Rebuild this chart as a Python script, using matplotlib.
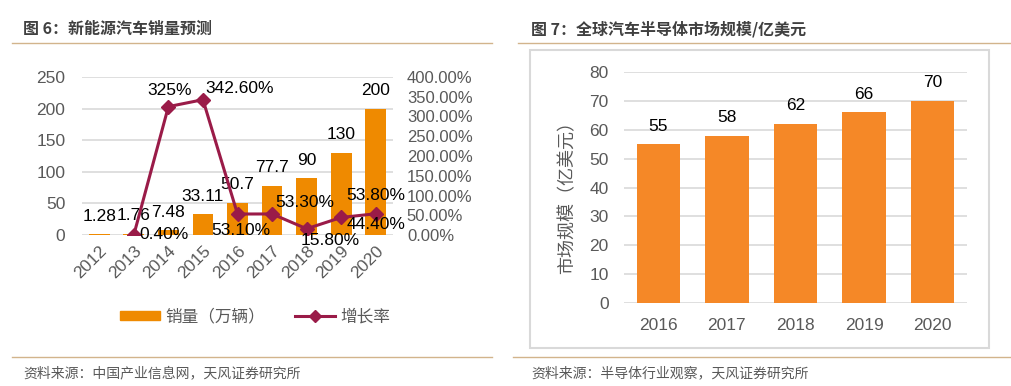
import matplotlib
matplotlib.use('Agg')
import matplotlib.pyplot as plt
from matplotlib.patches import Rectangle
from matplotlib.lines import Line2D
from matplotlib.ticker import FuncFormatter

plt.rcParams['font.family'] = ['Liberation Sans', 'Noto Sans CJK SC', 'DejaVu Sans']
CJK = ['Noto Sans CJK SC', 'DejaVu Sans']

# figure 6: NEV sales forecast
years6 = ['2012', '2013', '2014', '2015', '2016', '2017', '2018', '2019', '2020']
sales = [1.28, 1.76, 7.48, 33.11, 50.7, 77.7, 90, 130, 200]
sales_labels = ['1.28', '1.76', '7.48', '33.11', '50.7', '77.7', '90', '130', '200']
growth_years = years6[1:]
growth = [0.40, 325, 342.60, 53.10, 53.30, 15.80, 44.40, 53.80]
growth_labels = ['0.40%', '325%', '342.60%', '53.10%', '53.30%', '15.80%', '44.40%', '53.80%']

# figure 7: global auto semiconductor market
years7 = ['2016', '2017', '2018', '2019', '2020']
market = [55, 58, 62, 66, 70]

ORANGE = '#EF8A00'
ORANGE2 = '#F58827'
LINE = '#9A1B48'
GRID = '#D9D9D9'
TICK = '#595959'
RULE = '#D2B48C'

W, H = 1012, 386
fig = plt.figure(figsize=(W / 100, H / 100), dpi=100)


def px(x0, y0, x1, y1):
    # pixel box (top-left origin) -> figure fraction rect
    return [x0 / W, 1 - y1 / H, (x1 - x0) / W, (y1 - y0) / H]


# header / footer rules and texts
for x0, x1, y in [(12, 492, 43), (518, 1012, 43), (12, 492, 357), (513, 1012, 357)]:
    fig.add_artist(Line2D([x0 / W, x1 / W], [1 - y / H] * 2, color=RULE, lw=1))

fig.text(23 / W, 1 - 29 / H, '图 6：新能源汽车销量预测', family=CJK, fontsize=11.5,
         fontweight='bold', color='#404040', va='center')
fig.text(531 / W, 1 - 29 / H, '图 7：全球汽车半导体市场规模/亿美元', family=CJK, fontsize=11.5,
         fontweight='bold', color='#404040', va='center')
fig.text(23 / W, 1 - 373 / H, '资料来源：中国产业信息网，天风证券研究所', family=CJK,
         fontsize=10, color=TICK, va='center')
fig.text(531 / W, 1 - 373 / H, '资料来源：半导体行业观察，天风证券研究所', family=CJK,
         fontsize=10, color=TICK, va='center')

# ---- left chart ----
ax = fig.add_axes(px(82, 77, 393, 235))
x6 = list(range(len(years6)))
ax.bar(x6, sales, width=0.6, color=ORANGE, zorder=2, label='销量（万辆）')
ax.set_xlim(-0.5, len(years6) - 0.5)
ax.set_ylim(0, 250)
ax.set_yticks(range(0, 251, 50))
ax.grid(axis='y', color=GRID, lw=1.2, zorder=0)
ax.set_axisbelow(True)
for s in ax.spines.values():
    s.set_visible(False)
ax.tick_params(length=0, labelsize=12.5, colors=TICK)
ax.tick_params(axis='y', pad=12)
ax.set_xticks(x6)
ax.set_xticklabels(years6, rotation=45, ha='right', rotation_mode='anchor')
ax.tick_params(axis='x', pad=6)
for xi, v, t in zip(x6, sales, sales_labels):
    ax.annotate(t, (xi, v), xytext=(0, 13), textcoords='offset points',
                ha='center', va='center', fontsize=12.5, color='black', zorder=5)

ax2 = ax.twinx()
xg = [years6.index(y) for y in growth_years]
ax2.plot(xg, growth, color=LINE, lw=2.2, marker='D', ms=7, zorder=4, label='增长率')
ax2.set_ylim(0, 400)
ax2.set_yticks(range(0, 401, 50))
ax2.yaxis.set_major_formatter(FuncFormatter(lambda v, p: f'{v:.2f}%'))
for s in ax2.spines.values():
    s.set_visible(False)
ax2.tick_params(length=0, labelsize=12, colors=TICK, pad=10)

# growth label offsets in pixels (dx, dy up)
offs = [(30, 0), (1, 16), (37, 11), (3, -16), (33, 11), (24, -12), (35, -7), (0, 18)]
for xi, v, t, (dx, dy) in zip(xg, growth, growth_labels, offs):
    ax2.annotate(t, (xi, v), xytext=(dx * 0.72, dy * 0.72), textcoords='offset points',
                 ha='center', va='center', fontsize=12.5, color='black', zorder=6)

h1 = Rectangle((0, 0), 1, 1, color=ORANGE)
h2 = Line2D([], [], color=LINE, lw=2.2, marker='D', ms=6)
leg = fig.legend([h1, h2], ['销量（万辆）', '增长率'], loc='center',
                 bbox_to_anchor=(255 / W, 1 - 317 / H), ncol=2, frameon=False,
                 prop={'family': CJK, 'size': 12}, handlelength=2.4, handleheight=0.5,
                 columnspacing=1.8, handletextpad=0.3)
for t in leg.get_texts():
    t.set_color(TICK)

# ---- right chart ----
fig.add_artist(Rectangle((530 / W, 1 - 348 / H), 459 / W, 298 / H, transform=fig.transFigure,
                         fill=False, edgecolor=GRID, lw=1.5))
bx = fig.add_axes(px(624, 72, 967, 303))
x7 = list(range(len(years7)))
bx.bar(x7, market, width=0.63, color=ORANGE2, zorder=2)
bx.set_xlim(-0.5, len(years7) - 0.5)
bx.set_ylim(0, 80)
bx.set_yticks(range(0, 81, 10))
bx.grid(axis='y', color=GRID, lw=1.2, zorder=0)
bx.set_axisbelow(True)
for s in bx.spines.values():
    s.set_visible(False)
bx.set_xticks(x7)
bx.set_xticklabels(years7)
bx.tick_params(length=0, labelsize=12.5, colors=TICK)
bx.tick_params(axis='y', pad=11)
bx.tick_params(axis='x', pad=11)
for xi, v in zip(x7, market):
    bx.annotate(str(v), (xi, v), xytext=(0, 13), textcoords='offset points',
                ha='center', va='center', fontsize=12.5, color='black')
fig.text(567 / W, 1 - 193 / H, '市场规模（亿美元）', family=CJK, fontsize=13,
         color=TICK, rotation=90, ha='center', va='center')

fig.savefig('out.png', dpi=100)
